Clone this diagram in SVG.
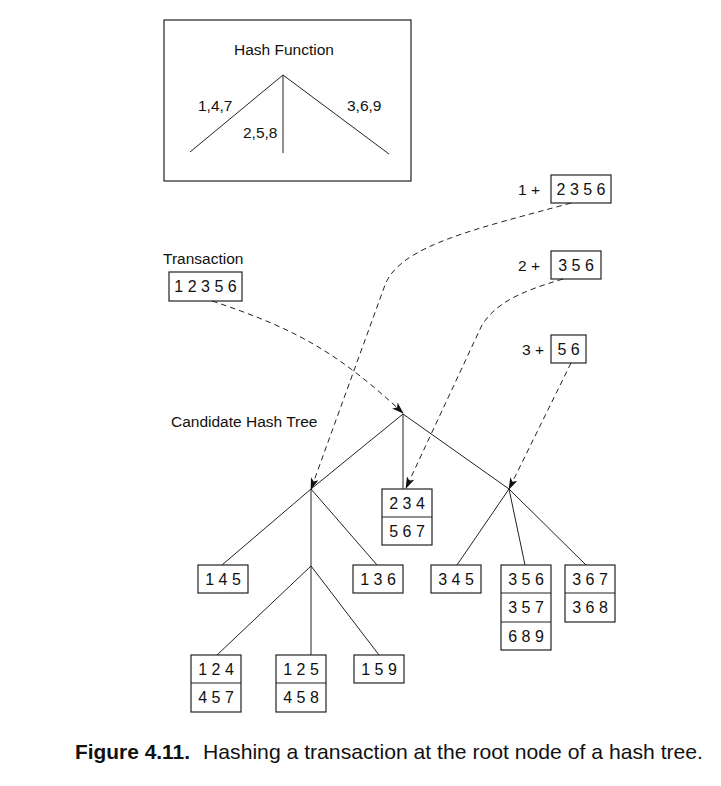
<svg xmlns="http://www.w3.org/2000/svg" width="721" height="786" viewBox="0 0 721 786">
<style>
text{font-family:"Liberation Sans",Arial,sans-serif;fill:#111}
.lbl{font-size:15.5px}
.num{font-size:16px;text-anchor:middle}
.box{fill:#fff;stroke:#222;stroke-width:1.2}
.edge{stroke:#222;stroke-width:1;fill:none}
.dash{stroke:#222;stroke-width:1;fill:none;stroke-dasharray:5.5,4}
</style>
<defs>
<marker id="ah" viewBox="0 0 12 8" refX="11" refY="4" markerWidth="12" markerHeight="8" markerUnits="userSpaceOnUse" orient="auto">
<path d="M0,0 L12,4 L0,8 L3,4 z" fill="#111"/>
</marker>
</defs>
<rect width="721" height="786" fill="#fff"/>

<g id="hash-function">
<rect x="164" y="20" width="247" height="161" class="box"/>
<text class="lbl" x="284" y="55" text-anchor="middle">Hash Function</text>
<line x1="283" y1="75" x2="190" y2="152" class="edge"/>
<line x1="283" y1="75" x2="283" y2="153" class="edge"/>
<line x1="283" y1="75" x2="389" y2="154" class="edge"/>
<text class="lbl" x="198" y="111">1,4,7</text>
<text class="lbl" x="243" y="138">2,5,8</text>
<text class="lbl" x="347" y="111">3,6,9</text>
</g>

<g id="transaction">
<text class="lbl" x="163" y="264">Transaction</text>
<rect x="169" y="272" width="73" height="29" class="box"/>
<text class="num" x="205.5" y="292">1 2 3 5 6</text>
</g>

<g id="prefix1">
<text class="lbl" x="518" y="195">1 +</text>
<rect x="551" y="175" width="60" height="28" class="box"/>
<text class="num" x="581" y="195">2 3 5 6</text>
</g>
<g id="prefix2">
<text class="lbl" x="518" y="271">2 +</text>
<rect x="551" y="251" width="50" height="28" class="box"/>
<text class="num" x="576" y="271">3 5 6</text>
</g>
<g id="prefix3">
<text class="lbl" x="522" y="355">3 +</text>
<rect x="551" y="335" width="35" height="28" class="box"/>
<text class="num" x="568.5" y="355">5 6</text>
</g>

<text id="tree-label" class="lbl" x="171" y="427">Candidate Hash Tree</text>

<g id="edges">
<line x1="403" y1="414" x2="311" y2="489" class="edge"/>
<line x1="403" y1="414" x2="403" y2="489" class="edge"/>
<line x1="403" y1="414" x2="509" y2="489" class="edge"/>
<line x1="311" y1="489" x2="222" y2="565" class="edge"/>
<line x1="311" y1="489" x2="311" y2="566" class="edge"/>
<line x1="311" y1="489" x2="377" y2="565" class="edge"/>
<line x1="311" y1="566" x2="217" y2="655" class="edge"/>
<line x1="311" y1="566" x2="311" y2="655" class="edge"/>
<line x1="311" y1="566" x2="379" y2="655" class="edge"/>
<line x1="509" y1="489" x2="457" y2="565" class="edge"/>
<line x1="509" y1="489" x2="525" y2="565" class="edge"/>
<line x1="509" y1="489" x2="586" y2="565" class="edge"/>
<path d="M212,301 C300,330 340,355 403,413" class="dash" marker-end="url(#ah)"/>
<path d="M571,203 C480,228 400,245 385,285 L311,489" class="dash" marker-end="url(#ah)"/>
<path d="M563,279 C515,293 495,305 482,325 L406,488" class="dash" marker-end="url(#ah)"/>
<path d="M571,363 L509,489" class="dash" marker-end="url(#ah)"/>
</g>

<g id="leaf-234-567">
<rect x="382" y="489" width="50" height="56" class="box"/>
<line x1="382" y1="517" x2="432" y2="517" class="edge"/>
<text class="num" x="407" y="509">2 3 4</text>
<text class="num" x="407" y="537">5 6 7</text>
</g>
<g id="leaf-145">
<rect x="198" y="565" width="50" height="28" class="box"/>
<text class="num" x="223" y="585">1 4 5</text>
</g>
<g id="leaf-136">
<rect x="353" y="565" width="50" height="28" class="box"/>
<text class="num" x="378" y="585">1 3 6</text>
</g>
<g id="leaf-345">
<rect x="431" y="565" width="50" height="28" class="box"/>
<text class="num" x="456" y="585">3 4 5</text>
</g>
<g id="leaf-356-357-689">
<rect x="501" y="565" width="50" height="85" class="box"/>
<line x1="501" y1="593" x2="551" y2="593" class="edge"/>
<line x1="501" y1="622" x2="551" y2="622" class="edge"/>
<text class="num" x="526" y="585">3 5 6</text>
<text class="num" x="526" y="613">3 5 7</text>
<text class="num" x="526" y="642">6 8 9</text>
</g>
<g id="leaf-367-368">
<rect x="565" y="565" width="50" height="57" class="box"/>
<line x1="565" y1="593" x2="615" y2="593" class="edge"/>
<text class="num" x="590" y="585">3 6 7</text>
<text class="num" x="590" y="613">3 6 8</text>
</g>
<g id="leaf-124-457">
<rect x="191" y="655" width="50" height="57" class="box"/>
<line x1="191" y1="683" x2="241" y2="683" class="edge"/>
<text class="num" x="216" y="675">1 2 4</text>
<text class="num" x="216" y="703">4 5 7</text>
</g>
<g id="leaf-125-458">
<rect x="276" y="655" width="50" height="57" class="box"/>
<line x1="276" y1="683" x2="326" y2="683" class="edge"/>
<text class="num" x="301" y="675">1 2 5</text>
<text class="num" x="301" y="703">4 5 8</text>
</g>
<g id="leaf-159">
<rect x="354" y="655" width="50" height="28" class="box"/>
<text class="num" x="379" y="675">1 5 9</text>
</g>

<g id="caption">
<text x="75" y="759" font-size="21" font-weight="bold" textLength="115" lengthAdjust="spacingAndGlyphs">Figure 4.11.</text>
<text x="203" y="759" font-size="21" textLength="500" lengthAdjust="spacingAndGlyphs">Hashing a transaction at the root node of a hash tree.</text>
</g>
</svg>
